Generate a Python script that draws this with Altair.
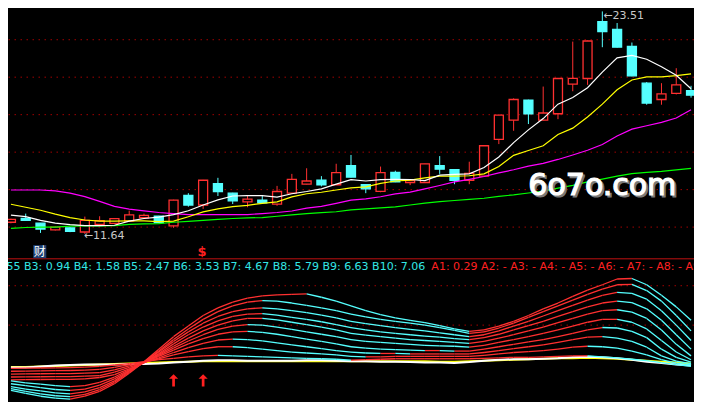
import altair as alt
import pandas as pd

# ---------------- data ----------------
idx = list(range(47))

opens = [12.26, 12.46, 12.21, 11.85, 11.96, 11.74, 12.14, 12.20, 12.32, 12.50,
         12.58, 12.07, 13.69, 13.18, 14.32, 13.81, 13.35, 13.44, 13.23, 13.81,
         14.29, 14.51, 14.26, 15.28, 14.26, 13.91, 14.92, 14.38, 14.38, 15.28,
         15.06, 14.50, 14.72, 16.68, 17.71, 18.77, 17.71, 18.05, 19.63, 19.93,
         22.97, 22.55, 21.64, 19.68, 18.81, 19.14, 19.28]
closes = [12.41, 12.36, 11.90, 12.00, 11.77, 12.36, 12.34, 12.45, 12.65, 12.63,
          12.24, 13.44, 13.18, 14.50, 13.90, 13.40, 13.49, 13.30, 13.90, 14.55,
          14.46, 14.26, 14.91, 14.67, 14.04, 14.91, 14.41, 14.50, 15.37, 15.09,
          14.50, 14.87, 16.34, 17.98, 18.81, 18.05, 18.09, 19.93, 19.94, 21.93,
          22.43, 21.60, 20.07, 18.62, 19.11, 19.59, 19.04]
highs = [12.45, 12.72, 12.21, 12.03, 11.99, 12.56, 12.58, 12.47, 12.88, 12.72,
         12.60, 13.46, 13.81, 14.52, 14.63, 13.83, 13.69, 13.69, 14.20, 14.84,
         15.14, 14.72, 15.38, 15.85, 14.27, 15.23, 15.01, 14.56, 15.38, 15.79,
         15.08, 15.49, 16.35, 18.00, 18.87, 18.80, 19.50, 19.95, 21.90, 21.95,
         23.51, 22.89, 21.85, 19.74, 19.68, 20.48, 19.54]
lows = [12.20, 12.36, 11.69, 11.82, 11.73, 11.64, 12.10, 12.18, 12.30, 12.48,
        12.22, 11.96, 13.09, 12.97, 13.66, 13.23, 13.06, 13.28, 13.14, 13.80,
        14.28, 14.17, 14.25, 14.65, 13.81, 13.86, 14.40, 14.24, 14.35, 14.84,
        14.29, 14.29, 14.70, 16.43, 17.14, 17.50, 17.70, 17.76, 19.25, 19.59,
        21.60, 21.58, 20.05, 18.53, 18.53, 19.08, 18.91]

ma5 = [12.64, 12.56, 12.36, 12.21, 12.13, 12.08, 12.08, 12.10, 12.32, 12.46,
       12.53, 12.67, 12.87, 13.18, 13.45, 13.66, 13.68, 13.68, 13.60, 13.78,
       13.90, 14.04, 14.29, 14.53, 14.46, 14.53, 14.55, 14.54, 14.48, 14.77,
       14.81, 14.84, 15.18, 15.74, 16.51, 17.19, 17.79, 18.56, 18.92, 19.44,
       20.27, 21.03, 21.16, 20.96, 20.56, 20.10, 19.38]
ma10 = [13.22, 13.06, 12.90, 12.69, 12.51, 12.38, 12.32, 12.32, 12.33, 12.33,
        12.29, 12.32, 12.55, 12.81, 12.97, 13.09, 13.16, 13.27, 13.35, 13.61,
        13.78, 13.86, 13.98, 14.09, 14.15, 14.33, 14.46, 14.51, 14.63, 14.72,
        14.72, 14.74, 14.84, 15.23, 15.83, 16.09, 16.34, 16.94, 17.28, 17.88,
        18.56, 19.33, 19.85, 20.02, 20.02, 20.08, 20.18]
ma30 = [13.98, 13.98, 13.98, 13.93, 13.81, 13.63, 13.37, 13.11, 12.96, 12.87,
        12.78, 12.72, 12.67, 12.67, 12.67, 12.67, 12.67, 12.72, 12.78, 12.86,
        13.01, 13.11, 13.27, 13.44, 13.51, 13.62, 13.77, 13.87, 14.04, 14.22,
        14.41, 14.55, 14.70, 14.89, 15.06, 15.25, 15.40, 15.61, 15.85, 16.10,
        16.41, 16.86, 17.23, 17.41, 17.59, 17.82, 18.26]
ma60 = [11.93, 11.98, 12.00, 12.00, 12.05, 12.07, 12.07, 12.08, 12.15, 12.17,
        12.19, 12.26, 12.31, 12.36, 12.41, 12.46, 12.49, 12.51, 12.58, 12.65,
        12.72, 12.77, 12.82, 12.92, 12.97, 13.03, 13.08, 13.18, 13.28, 13.36,
        13.42, 13.48, 13.54, 13.64, 13.72, 13.82, 13.92, 14.08, 14.23, 14.41,
        14.56, 14.72, 14.85, 14.92, 14.97, 15.05, 15.13]

B1 = [-8, -7.8, -7.6, -7.4, -7.2, -6.8, -6, -4.5, -3, -1,
      1, 2.5, 4, 5, 5.5, 5, 4.5, 4, 3.5, 3,
      2.5, 2, 1.5, 0.5, 1, 1.5, 2, 2, 2, 2,
      2, 2, 2.5, 3, 3.5, 3.5, 4, 4.5, 5, 5,
      4, 3, 1.5, 0, -2, -4, -6]
B2 = [-11, -10.8, -10.6, -10.4, -10.2, -9.8, -9, -7, -4, -1.5,
      2, 6, 9.5, 12.5, 14.5, 14.5, 13.5, 12, 10.5, 9,
      8, 7, 6, 4.5, 4, 4, 4.5, 4.5, 4.5, 4.5,
      4.5, 4.5, 5.5, 7, 8.5, 9.5, 10.5, 12, 14, 15,
      14.5, 13, 10, 6, 1, -2.5, -4.5]
B3 = [-14, -13.8, -13.6, -13.5, -13.4, -13, -12.5, -9.5, -5.5, -2,
      3, 8.5, 13.5, 18, 21.5, 22.5, 22, 20.5, 18.5, 16.5,
      14.5, 12.5, 10.5, 9, 8, 7.5, 7.5, 7, 7, 7,
      7, 7, 8.5, 10.5, 12.5, 14.5, 16.5, 19, 22, 24.5,
      25, 23.5, 20, 14, 5, -0.5, -3]
B4 = [-17, -16.8, -16.7, -16.6, -16.5, -16, -15.5, -12, -7, -2,
      4.5, 11, 17.5, 23, 27.5, 30, 30.5, 29.5, 27.5, 25,
      22.5, 20, 17.5, 14.5, 13, 12, 11.5, 11, 10.5, 10.5,
      10, 10, 12, 14.5, 17, 19.5, 22, 25, 28.5, 32,
      34.5, 34, 30.5, 24, 12, 3.5, -1.5]
B5 = [-20, -19.8, -19.6, -19.5, -19.4, -19, -17.5, -14.5, -8.5, -2,
      5.5, 13, 20.5, 27, 32.5, 36, 37.5, 37, 35, 32.5,
      30, 27.5, 25, 22, 20, 19, 18, 17, 16, 15.5,
      15, 14, 16, 19, 22, 25, 28.5, 32, 36, 40,
      43, 43, 40, 33, 21, 9, 1]
B6 = [-21, -23, -24.5, -26, -27, -26, -22.5, -17, -9.5, -2,
      6.5, 15, 23.5, 31, 37, 41.5, 44, 44, 42.5, 40,
      37.5, 35, 32, 28.5, 26.5, 25, 23.5, 22, 21, 20,
      19, 18, 20, 23.5, 27, 31, 35, 39.5, 44, 48.5,
      52, 53, 50.5, 44, 32, 17, 5]
B7 = [-24, -26, -28, -30, -31, -29.5, -25.5, -19, -10.5, -2,
      7.5, 17.5, 27, 35, 41.5, 46, 48.5, 49, 47.5, 45,
      43, 40.5, 37.5, 34.5, 32, 30, 28.5, 27, 25.5, 24.5,
      23, 22, 24, 27.5, 32, 36.5, 41, 46, 51, 56,
      60, 62, 60.5, 54, 42, 27, 12]
B8 = [-27, -29.5, -31.5, -33.5, -34.5, -32.5, -28, -21, -11, -1.5,
      9, 20, 30, 39, 46, 51, 54, 55, 54, 52,
      50, 47.5, 44.5, 41, 38.5, 36.5, 34.5, 32.5, 31, 29,
      27, 25, 27, 31, 36, 41, 46.5, 52, 57.5, 63,
      68, 71, 70, 64, 52, 37, 21]
B9 = [-29, -32, -34.5, -36.5, -37.5, -35, -30, -22.5, -12, -1.5,
      10, 22, 33, 43, 51, 57, 61, 62.5, 62, 60,
      57.5, 55, 52, 48.5, 45.5, 43, 41, 39, 37, 34.5,
      31.5, 28.5, 30, 34, 39, 45, 51, 57, 63, 69,
      74.5, 79, 79.5, 73, 62, 47, 31]
B10 = [-31, -34, -37, -39, -40, -37, -32, -24, -13, -1,
       12, 25, 36, 47, 55, 61, 65, 67.5, 68.5, 69,
       69.5, 66, 62, 57, 52, 48, 44.5, 42, 39.5, 36.5,
       33, 30.5, 32, 36, 41, 47, 54, 60, 67, 73.5,
       79, 85, 85.5, 79, 68, 56, 42]
WL = [-7, -7, -6, -5, -4.5, -4, -4, -4, -3.5, -3.5,
      -3, -2, -1, 0, 0.5, 0.5, 0, 0, 0, 0,
      0.5, 0.5, 0, -0.5, -0.5, -1, -1, -1.5, -2, -2,
      -2.5, -1.5, 0, 1, 1.5, 1.5, 2, 2.5, 3.5, 4,
      3.5, 2.5, 1, -1, -2.5, -4, -5]
YL = [-6.5, -6.5, -6, -5.5, -5, -4.5, -4, -3.5, -3, -2.5,
      -2, -1.5, -1, -0.5, -0.5, -0.5, -0.5, -0.5, -0.5, -0.5,
      -0.5, -0.5, -0.5, -0.5, -0.5, -0.5, -0.5, -0.5, -0.5, -1,
      -1, -0.5, 0, 0.5, 1, 1.5, 2, 2.5, 2.5, 3,
      2.5, 2, 1, 0, -1, -2, -3]

price_grid = [12, 14, 16, 18, 20, 22]
ind_grid = [37, 78]
pane_sep = [106]

b_text = "B2: 0.55 B3: 0.94 B4: 1.58 B5: 2.47 B6: 3.53 B7: 4.67 B8: 5.79 B9: 6.63 B10: 7.06"
a_text = "A1: 0.29 A2: - A3: - A4: - A5: - A6: - A7: - A8: - A9: -"

# ---------------- layout ----------------
W, H = 686, 394
xs = alt.Scale(domain=[-0.198, 46.2], nice=False, zero=False, padding=0)
ps = alt.Scale(domain=[2.667, 23.692], nice=False, zero=False, padding=0)
iscale = alt.Scale(domain=[-43, 367], nice=False, zero=False, padding=0)

RED = "#ff3030"
CYAN = "#55ffff"
GRID = "#a00000"


def X(f="i"):
    return alt.X(f"{f}:Q", scale=xs, axis=None)


def YP(f):
    return alt.Y(f"{f}:Q", scale=ps, axis=None)


def YI(f):
    return alt.Y(f"{f}:Q", scale=iscale, axis=None)


cdf = pd.DataFrame({"i": idx, "o": opens, "c": closes, "h": highs, "l": lows})
cdf["col"] = [RED if c >= o else CYAN for o, c in zip(opens, closes)]
cdf["fill"] = ["#000000" if c >= o else CYAN for o, c in zip(opens, closes)]

ma_rows = []
for name, vals, colr in [("MA60", ma60, "#00ff00"), ("MA30", ma30, "#ff00ff"),
                         ("MA10", ma10, "#ffff00"), ("MA5", ma5, "#ffffff")]:
    for i, v in zip(idx, vals):
        ma_rows.append({"i": i, "v": v, "s": name, "col": colr})
madf = pd.DataFrame(ma_rows)

seg_rows = []
for k, vals in enumerate([B1, B2, B3, B4, B5, B6, B7, B8, B9, B10]):
    for i in range(len(vals) - 1):
        seg_rows.append({"k": k, "i": i, "i2": i + 1, "v": vals[i], "v2": vals[i + 1],
                         "col": RED if vals[i + 1] >= vals[i] else CYAN})
segdf = pd.DataFrame(seg_rows)

base_rows = []
for name, vals, colr in [("Y", YL, "#ffff00"), ("W", WL, "#ffffff")]:
    for i, v in zip(idx, vals):
        base_rows.append({"i": i, "v": v, "s": name, "col": colr})
basedf = pd.DataFrame(base_rows)

layers = []
# grids
layers.append(alt.Chart(pd.DataFrame({"p": price_grid})).mark_rule(
    color=GRID, strokeDash=[1.5, 4.5], strokeWidth=1).encode(y=YP("p")))
layers.append(alt.Chart(pd.DataFrame({"d": ind_grid})).mark_rule(
    color=GRID, strokeDash=[1.5, 4.5], strokeWidth=1).encode(y=YI("d")))
layers.append(alt.Chart(pd.DataFrame({"d": pane_sep})).mark_rule(
    color="#c01010", strokeWidth=1).encode(y=YI("d")))

# candles
layers.append(alt.Chart(cdf).mark_rule(strokeWidth=1).encode(
    x=X(), y=YP("l"), y2="h:Q", color=alt.Color("col:N", scale=None)))
layers.append(alt.Chart(cdf).mark_bar(size=9, strokeWidth=1.3).encode(
    x=X(), y=YP("o"), y2="c:Q",
    fill=alt.Fill("fill:N", scale=None), stroke=alt.Stroke("col:N", scale=None)))

# moving averages
layers.append(alt.Chart(madf).mark_line(strokeWidth=1.2).encode(
    x=X(), y=YP("v"), detail="s:N", color=alt.Color("col:N", scale=None),
    order="i:Q"))

# indicator
layers.append(alt.Chart(basedf).mark_line(strokeWidth=2).encode(
    x=X(), y=YI("v"), detail="s:N", color=alt.Color("col:N", scale=None),
    order="i:Q"))
layers.append(alt.Chart(segdf).mark_rule(strokeWidth=1.3).encode(
    x=X(), x2="i2:Q", y=YI("v"), y2="v2:Q", color=alt.Color("col:N", scale=None)))

# arrows below indicator
arrow_path = "M0,-1L0.75,-0.25L0.22,-0.25L0.22,1L-0.22,1L-0.22,-0.25L-0.75,-0.25Z"
layers.append(alt.Chart(pd.DataFrame({"i": [11, 13], "d": [-20.5, -20.5]})).mark_point(
    shape=arrow_path, filled=True, size=150, color="#ff2020", opacity=1).encode(
    x=X(), y=YI("d")))

# annotations
layers.append(alt.Chart(pd.DataFrame({"i": [5], "p": [11.64], "t": ["\u219011.64"]})).mark_text(
    font="DejaVu Sans", fontSize=11, align="left", baseline="middle", dx=-1, dy=2,
    color="#c8c8c8").encode(x=X(), y=YP("p"), text="t:N"))
layers.append(alt.Chart(pd.DataFrame({"i": [40], "p": [23.51], "t": ["\u219023.51"]})).mark_text(
    font="DejaVu Sans", fontSize=11, align="left", baseline="middle", dx=1, dy=5,
    color="#c8c8c8").encode(x=X(), y=YP("p"), text="t:N"))

layers.append(alt.Chart(pd.DataFrame({"i": [1.95], "p": [10.69]})).mark_point(
    shape="square", filled=True, size=170, color="#1d3f72", opacity=1).encode(
    x=X(), y=YP("p")))
layers.append(alt.Chart(pd.DataFrame({"i": [1.95], "p": [10.69], "t": ["财"]})).mark_text(
    font="Noto Sans CJK SC", fontSize=12, align="center", baseline="middle",
    color="#ffffff").encode(x=X(), y=YP("p"), text="t:N"))
layers.append(alt.Chart(pd.DataFrame({"i": [12.92], "p": [10.67], "t": ["$"]})).mark_text(
    font="DejaVu Sans", fontSize=13, fontWeight="bold", align="center", baseline="middle",
    color="#ff2020").encode(x=X(), y=YP("p"), text="t:N"))

# values row
layers.append(alt.Chart(pd.DataFrame({"i": [28.2], "p": [9.846], "t": [b_text]})).mark_text(
    font="DejaVu Sans", fontSize=11, align="right", baseline="middle", dx=-2.5,
    color="#33e6e6").encode(x=X(), y=YP("p"), text="t:N"))
layers.append(alt.Chart(pd.DataFrame({"i": [28.2], "p": [9.846], "t": [a_text]})).mark_text(
    font="DejaVu Sans", fontSize=11, align="left", baseline="middle", dx=3.5,
    color="#ff2020").encode(x=X(), y=YP("p"), text="t:N"))

# watermark
wm = pd.DataFrame({"i": [40], "p": [13.69], "t": ["6o7o.com"]})
layers.append(alt.Chart(wm).mark_text(
    font="DejaVu Sans", fontSize=30, align="center", baseline="alphabetic", dx=2, dy=2,
    color="#7a7a7a", stroke="#7a7a7a", strokeWidth=1.2).encode(x=X(), y=YP("p"), text="t:N"))
layers.append(alt.Chart(wm).mark_text(
    font="DejaVu Sans", fontSize=30, align="center", baseline="alphabetic",
    color="#ffffff", stroke="#ffffff", strokeWidth=1.2).encode(x=X(), y=YP("p"), text="t:N"))

chart = alt.layer(*layers).resolve_scale(y="independent").properties(
    width=W, height=H, padding=0, background="#000000",
    autosize=alt.AutoSizeParams(type="none", contains="padding"),
).configure_view(stroke=None)

chart.save("out.html", embed_options={"renderer": "svg", "actions": False})
